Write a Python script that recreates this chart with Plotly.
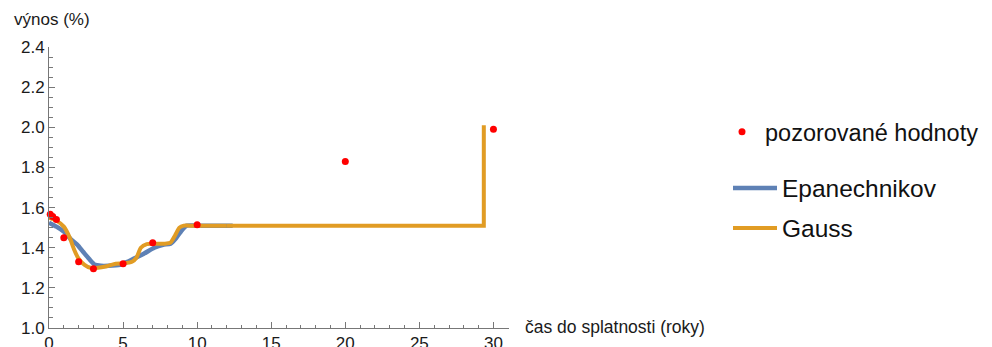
import plotly.graph_objects as go

# observed yields
obs_x = [0.083, 0.25, 0.5, 1, 2, 3, 5, 7, 10, 20, 30]
obs_y = [1.567, 1.555, 1.54, 1.45, 1.33, 1.295, 1.32, 1.425, 1.515, 1.83, 1.99]

# Epanechnikov kernel fit
epa_x = [0, 0.5, 1.0, 1.5, 1.9, 2.3, 2.7, 3.1, 3.5, 4.0, 4.8, 5.3, 5.7, 6.4, 7.1, 7.7, 8.2, 8.6, 9.0, 9.3, 10, 12.4]
epa_y = [1.525, 1.505, 1.48, 1.44, 1.415, 1.38, 1.345, 1.315, 1.31, 1.31, 1.315, 1.33, 1.345, 1.37, 1.40, 1.415, 1.42, 1.45, 1.49, 1.51, 1.51, 1.51]

# Gauss kernel fit (smooth part)
gau_x = [0, 0.5, 1.0, 1.4, 1.7, 2.0, 2.4, 2.8, 3.3, 3.9, 4.5, 5.0, 5.6, 5.9, 6.2, 6.6, 7.0, 7.8, 8.2, 8.5, 8.8, 9.1, 9.5, 12]
gau_y = [1.55, 1.535, 1.505, 1.45, 1.39, 1.345, 1.315, 1.30, 1.30, 1.308, 1.32, 1.322, 1.33, 1.35, 1.40, 1.418, 1.42, 1.42, 1.425, 1.46, 1.50, 1.51, 1.51, 1.51]
# Gauss kernel fit (flat part and jump)
gau_tail_x = [12, 20, 29.35, 29.35]
gau_tail_y = [1.51, 1.51, 1.51, 2.01]

BLUE = "#5E81B5"
ORANGE = "#E19C24"
FONT = "Liberation Sans, Arial, sans-serif"
TXT = "#1a1a1a"

# page has an 8px body margin; plot area in page pixels: x 49..509, y 47..328
PX0, PX1, PY0, PY1 = 49, 509, 47, 328
def px(xp):
    return (xp - PX0) / (PX1 - PX0)
def py(yp):
    return (PY1 - yp) / (PY1 - PY0)

fig = go.Figure()
fig.add_trace(go.Scatter(x=epa_x, y=epa_y, mode="lines", name="Epanechnikov",
                         line=dict(color=BLUE, width=4.5, shape="spline", smoothing=0.6),
                         legend="legend2"))
fig.add_trace(go.Scatter(x=gau_x, y=gau_y, mode="lines", name="Gauss",
                         line=dict(color=ORANGE, width=4, shape="spline", smoothing=0.6),
                         legend="legend3", legendgroup="g"))
fig.add_trace(go.Scatter(x=gau_tail_x, y=gau_tail_y, mode="lines", name="Gauss",
                         line=dict(color=ORANGE, width=4), showlegend=False,
                         legend="legend3", legendgroup="g"))
fig.add_trace(go.Scatter(x=obs_x, y=obs_y, mode="markers", name="pozorované hodnoty",
                         marker=dict(color="#FF0000", size=7), cliponaxis=False,
                         legend="legend", showlegend=True))

axcol = "#777777"
leg_font = dict(size=24.5, color="#111111")
W, H = 984, 339
fig.update_layout(
    width=W, height=H,
    showlegend=True,
    margin=dict(l=PX0 - 8, r=W - (PX1 - 8), t=PY0 - 8, b=H - (PY1 - 8), autoexpand=False),
    plot_bgcolor="white", paper_bgcolor="white",
    font=dict(family=FONT, size=17, color=TXT),
    xaxis=dict(range=[0, 31.05], dtick=5, tick0=0, showgrid=False, zeroline=False,
               showline=True, linecolor=axcol, linewidth=1, automargin=False,
               ticks="inside", ticklen=6, tickcolor=axcol,
               minor=dict(dtick=1, ticks="inside", ticklen=3.5, tickcolor=axcol, showgrid=False),
               tickfont=dict(size=17, color=TXT)),
    yaxis=dict(range=[1.0, 2.4], dtick=0.2, tick0=1.0, tickformat=".1f", showgrid=False, zeroline=False,
               showline=True, linecolor=axcol, linewidth=1, automargin=False,
               ticks="inside", ticklen=6, tickcolor=axcol,
               minor=dict(dtick=0.05, ticks="inside", ticklen=3.5, tickcolor=axcol, showgrid=False),
               tickfont=dict(size=17, color=TXT)),
    legend=dict(x=px(719), xanchor="left", y=py(132), yanchor="middle",
                font=dict(size=23.5, color="#111111"), bgcolor="rgba(0,0,0,0)", itemwidth=36),
    legend2=dict(x=px(728), xanchor="left", y=py(188), yanchor="middle",
                 font=leg_font, bgcolor="rgba(0,0,0,0)", itemwidth=44),
    legend3=dict(x=px(728), xanchor="left", y=py(228), yanchor="middle",
                 font=leg_font, bgcolor="rgba(0,0,0,0)", itemwidth=44),
    annotations=[
        dict(text="výnos (%)", xref="paper", yref="paper", x=px(12), y=py(20),
             xanchor="left", yanchor="middle", showarrow=False, font=dict(size=17, color=TXT)),
        dict(text="čas do splatnosti (roky)", xref="paper", yref="paper", x=px(523), y=py(327),
             xanchor="left", yanchor="middle", showarrow=False, font=dict(size=17.5, color=TXT)),
    ],
)
fig.write_html("out.html")
